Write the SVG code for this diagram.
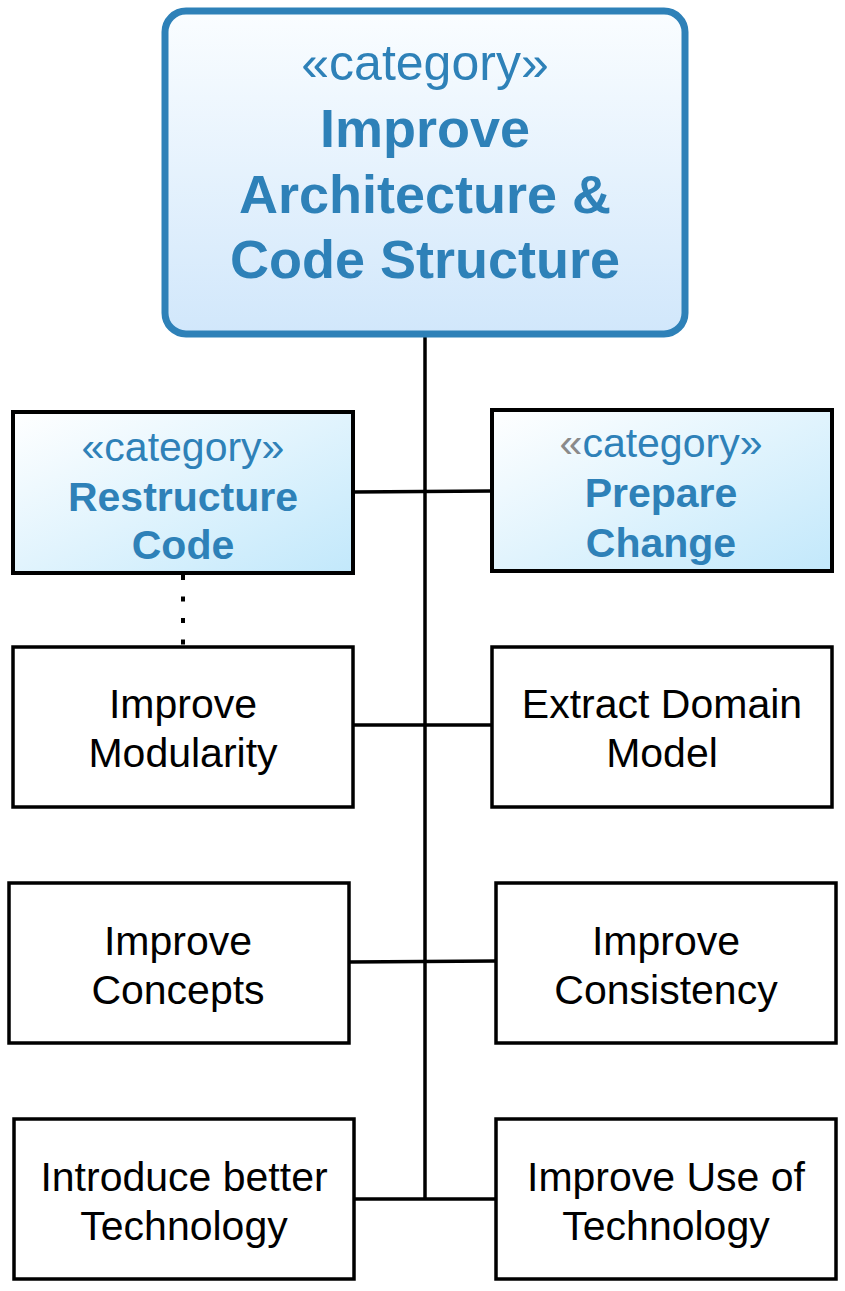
<svg xmlns="http://www.w3.org/2000/svg" width="845" height="1291" viewBox="0 0 845 1291">
  <defs>
    <linearGradient id="gTop" x1="0" y1="0" x2="0" y2="1">
      <stop offset="0" stop-color="#fafdff"/>
      <stop offset="1" stop-color="#d1e7fb"/>
    </linearGradient>
    <linearGradient id="gCat" x1="0" y1="0" x2="1" y2="1">
      <stop offset="0" stop-color="#ffffff"/>
      <stop offset="1" stop-color="#c2e8fb"/>
    </linearGradient>
    <style>
      .lbl { font-family: "Liberation Sans", Arial, Helvetica, sans-serif; font-size: 41px; fill: #000; text-anchor: middle; }
      .st { font-family: "Liberation Sans", Arial, Helvetica, sans-serif; fill: #2e81b8; text-anchor: middle; }
      .ttl { font-family: "Liberation Sans", Arial, Helvetica, sans-serif; font-weight: bold; fill: #2e81b8; text-anchor: middle; }
      .box { fill: #ffffff; stroke: #000; stroke-width: 3.5; }
      .cat { fill: url(#gCat); stroke: #000; stroke-width: 4; }
      .con { stroke: #000; stroke-width: 3.5; fill: none; }
    </style>
  </defs>

  <g id="connectors">
    <line class="con" x1="425" y1="336" x2="425" y2="1199"/>
    <line class="con" x1="353" y1="492" x2="492" y2="491"/>
    <line class="con" x1="353" y1="725" x2="492" y2="725"/>
    <line class="con" x1="349" y1="962" x2="496" y2="961"/>
    <line class="con" x1="354" y1="1199" x2="496" y2="1199"/>
    <line x1="183" y1="575" x2="183" y2="645" stroke="#000" stroke-width="4" stroke-dasharray="5 16.5" stroke-linecap="butt"/>
  </g>

  <g id="node-root">
    <rect x="165" y="11" width="520" height="323" rx="21" ry="21" fill="url(#gTop)" stroke="#2e81b8" stroke-width="7"/>
    <text class="st" x="425" y="80" font-size="50">«category»</text>
    <text class="ttl" x="425" y="147" font-size="54">Improve</text>
    <text class="ttl" x="425" y="213" font-size="54">Architecture &amp;</text>
    <text class="ttl" x="425" y="278" font-size="54">Code Structure</text>
  </g>

  <g id="node-restructure">
    <rect class="cat" x="13" y="412" width="340" height="161"/>
    <text class="st" x="183" y="461" font-size="41">«category»</text>
    <text class="ttl" x="183" y="511" font-size="41">Restructure</text>
    <text class="ttl" x="183" y="559" font-size="41">Code</text>
  </g>

  <g id="node-prepare">
    <rect class="cat" x="492" y="410" width="340" height="161"/>
    <text class="st" x="661" y="457" font-size="41"><tspan fill="#8a8a8a">«</tspan>category»</text>
    <text class="ttl" x="661" y="507" font-size="41">Prepare</text>
    <text class="ttl" x="661" y="557" font-size="41">Change</text>
  </g>

  <g id="node-modularity">
    <rect class="box" x="13" y="647" width="340" height="160"/>
    <text class="lbl" x="183" y="718">Improve</text>
    <text class="lbl" x="183" y="767">Modularity</text>
  </g>

  <g id="node-domain">
    <rect class="box" x="492" y="647" width="340" height="160"/>
    <text class="lbl" x="662" y="718">Extract Domain</text>
    <text class="lbl" x="662" y="767">Model</text>
  </g>

  <g id="node-concepts">
    <rect class="box" x="9" y="883" width="340" height="160"/>
    <text class="lbl" x="178" y="955">Improve</text>
    <text class="lbl" x="178" y="1004">Concepts</text>
  </g>

  <g id="node-consistency">
    <rect class="box" x="496" y="883" width="340" height="160"/>
    <text class="lbl" x="666" y="955">Improve</text>
    <text class="lbl" x="666" y="1004">Consistency</text>
  </g>

  <g id="node-introduce">
    <rect class="box" x="14" y="1119" width="340" height="160"/>
    <text class="lbl" x="184" y="1191">Introduce better</text>
    <text class="lbl" x="184" y="1240">Technology</text>
  </g>

  <g id="node-use">
    <rect class="box" x="496" y="1119" width="340" height="160"/>
    <text class="lbl" x="666" y="1191">Improve Use of</text>
    <text class="lbl" x="666" y="1240">Technology</text>
  </g>
</svg>
